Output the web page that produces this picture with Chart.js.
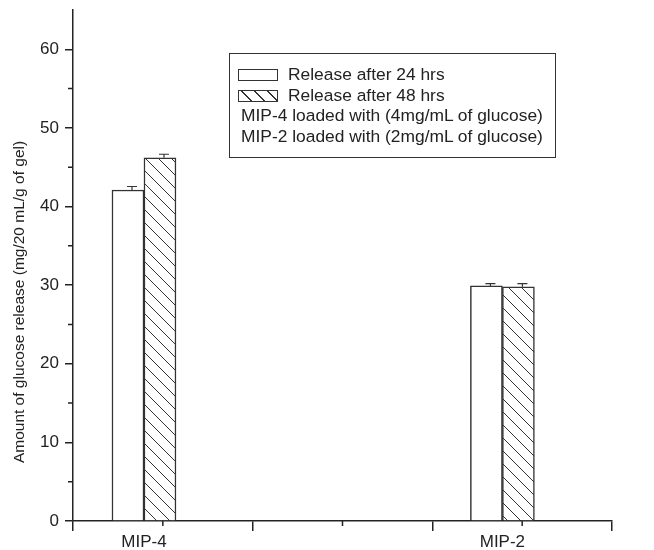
<html>
<head>
    <script src="https://cdn.jsdelivr.net/npm/chart.js@4.4.3/dist/chart.umd.min.js"></script>
    <style>
        body { margin: 0; background: #fff; font-family: "Liberation Sans", Arial, sans-serif; }
        #wrap { position: relative; width: 654px; height: 550px; }
        #legend {
            position: absolute; left: 229px; top: 53px; width: 327px; height: 105px;
            border: 1px solid #333; box-sizing: border-box; padding-top: 10px;
            font-size: 17.4px; color: #222;
        }
        .row { height: 20.7px; line-height: 20.7px; white-space: nowrap; }
        .sw { display: inline-block; width: 40px; height: 12px; border: 1px solid #333; box-sizing: border-box;
              vertical-align: -1px; margin-left: 8px; margin-right: 10px; background: #fff; }
        .hatch { background: repeating-linear-gradient(45deg, #fff 0px, #fff 8.2px, #333 8.2px, #333 9.2px); }
        .txt { margin-left: 11px; }
    </style>
</head>
<body>
    <div id="wrap">
        <canvas id="mychart" width="654" height="550"></canvas>
        <div id="legend">
            <div class="row"><span class="sw"></span>Release after 24 hrs</div>
            <div class="row"><span class="sw hatch"></span>Release after 48 hrs</div>
            <div class="row"><span class="txt">MIP-4 loaded with (4mg/mL of glucose)</span></div>
            <div class="row"><span class="txt">MIP-2 loaded with (2mg/mL of glucose)</span></div>
        </div>
    </div>
    <script>
        // data
        categories = ["MIP-4", "MIP-2"];
        catX = [0.895, 2.89];
        release24 = [42.1, 29.9];
        release48 = [46.2, 29.8];
        err24 = [0.45, 0.3];
        err48 = [0.45, 0.4];

        // axis ticks
        xMajor = [0.5, 1.5, 2.5, 3.5];
        xMinor = [1, 2, 3];
        yMajor = [0, 10, 20, 30, 40, 50, 60];
        yMinor = [5, 15, 25, 35, 45, 55];
        yTitle = "Amount of glucose release (mg/20 mL/g of gel)";

        function hatch() {
            var c = document.createElement("canvas");
            c.width = 13; c.height = 13;
            var g = c.getContext("2d");
            g.fillStyle = "#fff";
            g.fillRect(0, 0, 13, 13);
            g.strokeStyle = "#333";
            g.lineWidth = 1;
            g.beginPath();
            g.moveTo(-1, -1); g.lineTo(14, 14);
            g.moveTo(-1, 12); g.lineTo(1, 14);
            g.moveTo(12, -1); g.lineTo(14, 1);
            g.stroke();
            return g.createPattern(c, "repeat");
        }

        function tickColor(list) {
            return function(c) {
                if (!c.tick) return "rgba(0,0,0,0)";
                return list.indexOf(c.tick.value) >= 0 ? "#222" : "rgba(0,0,0,0)";
            };
        }

        errs = [err24, err48];
        extras = {
            id: "extras",
            afterDatasetsDraw: function(chart) {
                var ctx = chart.ctx, ys = chart.scales.y;
                ctx.save();
                ctx.strokeStyle = "#333";
                ctx.lineWidth = 1.2;
                for (var d = 0; d < 2; d++) {
                    var meta = chart.getDatasetMeta(d);
                    meta.data.forEach(function(bar, i) {
                        var v = chart.data.datasets[d].data[i].y;
                        var top = ys.getPixelForValue(v + errs[d][i]);
                        var x = bar.x + 4;
                        ctx.beginPath();
                        ctx.moveTo(x, bar.y); ctx.lineTo(x, top);
                        ctx.moveTo(x - 5, top); ctx.lineTo(x + 5, top);
                        ctx.stroke();
                    });
                }
                ctx.restore();
            },
            afterDraw: function(chart) {
                var ctx = chart.ctx, xs = chart.scales.x, ys = chart.scales.y, a = chart.chartArea;
                ctx.save();
                ctx.strokeStyle = "#222";
                ctx.lineWidth = 1.5;
                ctx.beginPath();
                xMinor.forEach(function(v) {
                    var px = xs.getPixelForValue(v);
                    ctx.moveTo(px, a.bottom); ctx.lineTo(px, a.bottom + 5);
                });
                yMinor.forEach(function(v) {
                    var py = ys.getPixelForValue(v);
                    ctx.moveTo(a.left - 5, py); ctx.lineTo(a.left, py);
                });
                ctx.stroke();
                ctx.fillStyle = "#222";
                ctx.font = "15.5px 'Liberation Sans', Arial";
                ctx.textAlign = "center";
                ctx.textBaseline = "middle";
                ctx.translate(20, 302);
                ctx.rotate(-Math.PI / 2);
                ctx.fillText(yTitle, 0, 0);
                ctx.restore();
            }
        };

        function pts(vals) {
            return vals.map(function(v, i) { return { x: catX[i], y: v }; });
        }

        datainfo = {
            datasets: [{
                label: "Release after 24 hrs",
                data: pts(release24),
                backgroundColor: "#fff",
                borderColor: "#333",
                borderWidth: 1.5,
                barThickness: 32
            }, {
                label: "Release after 48 hrs",
                data: pts(release48),
                backgroundColor: hatch(),
                borderColor: "#333",
                borderWidth: 1.5,
                barThickness: 32
            }]
        };

        config = {
            type: "bar",
            data: datainfo,
            plugins: [extras],
            options: {
                responsive: false,
                animation: false,
                layout: { padding: { top: 10, right: 42, left: 0, bottom: 0 } },
                plugins: { legend: { display: false }, tooltip: { enabled: false } },
                scales: {
                    x: {
                        type: "linear",
                        offset: false,
                        min: 0.5, max: 3.5,
                        afterBuildTicks: function(s) {
                            s.ticks = xMajor.concat(xMinor, catX).sort(function(a, b) { return a - b; })
                                .map(function(v) { return { value: v }; });
                        },
                        afterFit: function(s) { s.height = 29; s.paddingLeft = 0; s.paddingRight = 0; },
                        border: { color: "#222", width: 1.5 },
                        grid: {
                            offset: false,
                            drawOnChartArea: false,
                            tickLength: 10,
                            lineWidth: 1.5,
                            color: tickColor(xMajor)
                        },
                        ticks: {
                            autoSkip: false, maxRotation: 0, padding: 1,
                            color: "#222",
                            font: { family: "'Liberation Sans', Arial", size: 17 },
                            callback: function(v) {
                                var i = catX.indexOf(v);
                                return i >= 0 ? categories[i] : "";
                            }
                        }
                    },
                    y: {
                        min: 0, max: 65,
                        afterFit: function(s) { s.width = 73; s.paddingTop = 0; s.paddingBottom = 0; },
                        border: { color: "#222", width: 1.5 },
                        grid: {
                            drawOnChartArea: false,
                            tickLength: 8,
                            lineWidth: 1.5,
                            color: tickColor(yMajor)
                        },
                        ticks: {
                            stepSize: 5, padding: 6,
                            color: "#222",
                            font: { family: "'Liberation Sans', Arial", size: 17 },
                            callback: function(v) { return yMajor.indexOf(v) >= 0 ? v : ""; }
                        }
                    }
                }
            }
        };
        new Chart(document.querySelector("#mychart"), config);
    </script>
</body>
</html>
